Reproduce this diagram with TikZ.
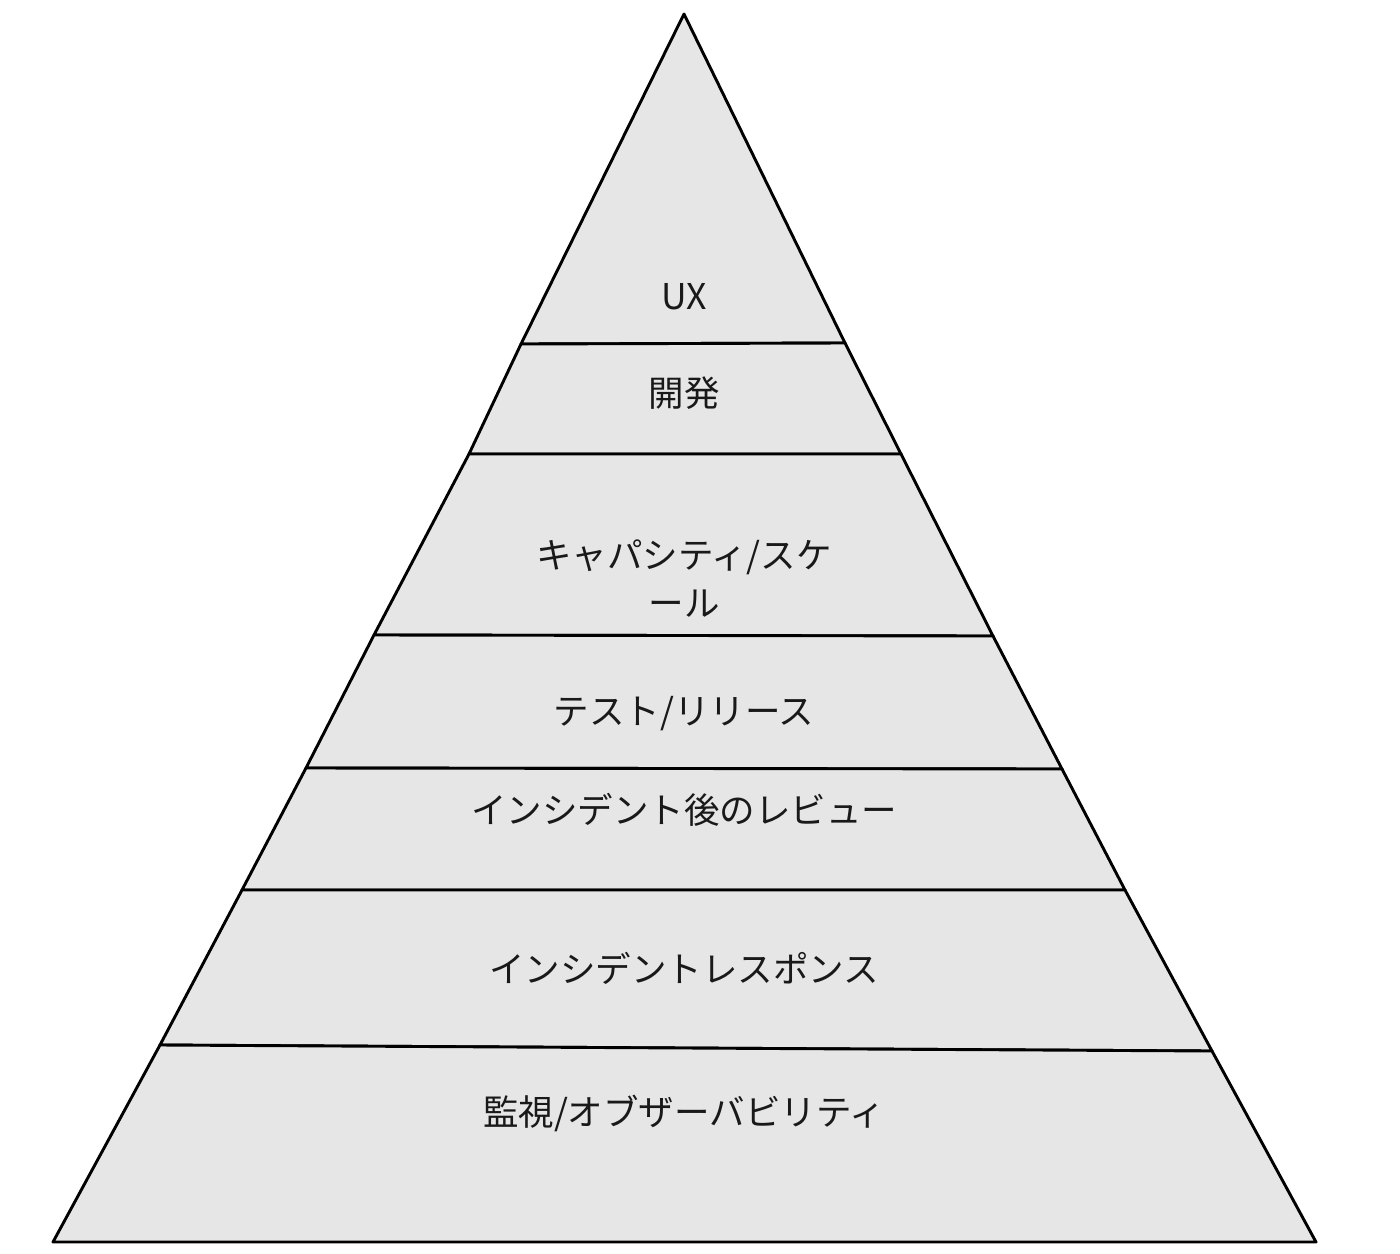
\documentclass[tikz,border=0pt]{standalone}
\usepackage{fontspec}
\setmainfont{Noto Sans CJK JP}
\definecolor{layerfill}{HTML}{E6E6E6}
\tikzset{
  layer/.style={fill=layerfill, draw=black, line width=2.9pt, line join=round},
  lbl/.style={font=\fontsize{35.5}{48}\selectfont, text=black!90, align=center, inner sep=0pt}
}
\begin{document}
\begin{tikzpicture}[x=1pt,y=-1pt]
\useasboundingbox (0,0) rectangle (1400,1253);
\fill[white] (0,0) rectangle (1400,1253);
% boundary coordinates
\coordinate (A)  at (684,14);
\coordinate (L1) at (521,344);  \coordinate (R1) at (845,343);
\coordinate (L2) at (469,454);  \coordinate (R2) at (901,454);
\coordinate (L3) at (374,635);  \coordinate (R3) at (993,636);
\coordinate (L4) at (306,768);  \coordinate (R4) at (1062,769);
\coordinate (L5) at (242,890);  \coordinate (R5) at (1125,890);
\coordinate (L6) at (160,1045); \coordinate (R6) at (1212,1051);
\coordinate (L7) at (53,1242);  \coordinate (R7) at (1316,1242);
% layers
\draw[layer] (A) -- (R1) -- (L1) -- cycle;
\draw[layer] (L1) -- (R1) -- (R2) -- (L2) -- cycle;
\draw[layer] (L2) -- (R2) -- (R3) -- (L3) -- cycle;
\draw[layer] (L3) -- (R3) -- (R4) -- (L4) -- cycle;
\draw[layer] (L4) -- (R4) -- (R5) -- (L5) -- cycle;
\draw[layer] (L5) -- (R5) -- (R6) -- (L6) -- cycle;
\draw[layer] (L6) -- (R6) -- (R7) -- (L7) -- cycle;
% labels
\node[lbl] (ux)   at (684,297) {UX};
\node[lbl] (dev)  at (684,393) {開発};
\node[lbl] (cap)  at (684,579) {キャパシティ/スケ\\ール};
\node[lbl] (test) at (684,714) {テスト/リリース};
\node[lbl] (pir)  at (684,810) {インシデント後のレビュー};
\node[lbl] (ir)   at (684,968) {インシデントレスポンス};
\node[lbl] (mon)  at (684,1113) {監視/オブザーバビリティ};
\end{tikzpicture}
\end{document}
